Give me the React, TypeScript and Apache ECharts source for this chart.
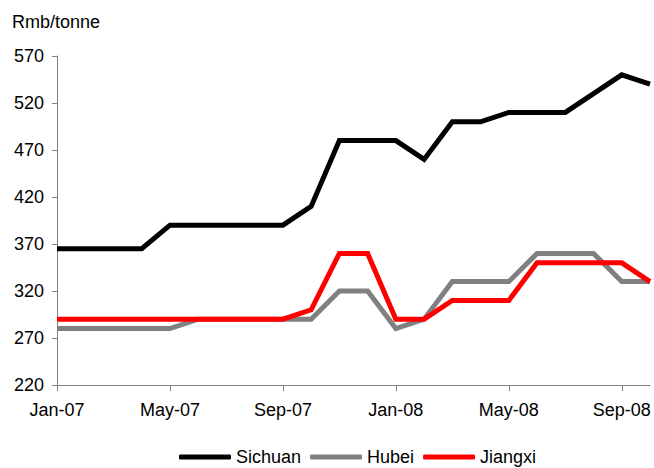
import React, { useEffect, useRef } from "react";
import * as echarts from "echarts";

// Monthly prices, Jan-07 through Oct-08
const months = [
  "Jan-07", "Feb-07", "Mar-07", "Apr-07", "May-07", "Jun-07", "Jul-07", "Aug-07",
  "Sep-07", "Oct-07", "Nov-07", "Dec-07", "Jan-08", "Feb-08", "Mar-08", "Apr-08",
  "May-08", "Jun-08", "Jul-08", "Aug-08", "Sep-08", "Oct-08",
];

const sichuan = [365, 365, 365, 365, 390, 390, 390, 390, 390, 410, 480, 480, 480, 460, 500, 500, 510, 510, 510, 530, 550, 540];
const hubei = [280, 280, 280, 280, 280, 290, 290, 290, 290, 290, 320, 320, 280, 290, 330, 330, 330, 360, 360, 360, 330, 330];
const jiangxi = [290, 290, 290, 290, 290, 290, 290, 290, 290, 300, 360, 360, 290, 290, 310, 310, 310, 350, 350, 350, 350, 330];

const yMin = 220;
const yMax = 570;
const yStep = 50;
const unitLabel = "Rmb/tonne";

const FONT = "'Liberation Sans', Arial, sans-serif";
const FS = 18;

export default function App() {
  const ref = useRef<HTMLDivElement>(null);

  useEffect(() => {
    if (!ref.current) return;
    const chart = echarts.init(ref.current, null, { renderer: "svg" });
    const axisColor = "#808080";
    const mkSeries = (name: string, data: number[], color: string) => ({
      name,
      type: "line",
      data,
      symbol: "none",
      lineStyle: { color, width: 5, join: "miter" },
      itemStyle: { color },
    });
    chart.setOption({
      animation: false,
      textStyle: { fontFamily: FONT },
      grid: { left: 57, right: 4, top: 56, bottom: 83, containLabel: false },
      graphic: [
        {
          type: "text",
          left: 12,
          top: 13,
          style: { text: unitLabel, fontSize: FS, fontFamily: FONT, fill: "#000" },
        },
      ],
      xAxis: {
        type: "category",
        data: months,
        boundaryGap: false,
        axisLine: { lineStyle: { color: axisColor, width: 1 } },
        axisTick: { interval: 3, length: 6, lineStyle: { color: axisColor } },
        axisLabel: { interval: 3, margin: 16, fontSize: FS, color: "#000", fontFamily: FONT },
        splitLine: { show: false },
      },
      yAxis: {
        type: "value",
        min: yMin,
        max: yMax,
        interval: yStep,
        axisLine: { show: true, lineStyle: { color: axisColor, width: 1 } },
        axisTick: { show: true, length: 5, lineStyle: { color: axisColor } },
        axisLabel: { margin: 13, fontSize: FS, color: "#000", fontFamily: FONT },
        splitLine: { show: false },
      },
      legend: {
        top: 448,
        left: 179,
        padding: 0,
        itemWidth: 52,
        itemHeight: 5,
        itemGap: 9,
        icon: "roundRect",
        textStyle: { fontSize: FS, color: "#000", fontFamily: FONT },
        data: ["Sichuan", "Hubei", "Jiangxi"],
      },
      series: [
        mkSeries("Sichuan", sichuan, "#000000"),
        mkSeries("Hubei", hubei, "#808080"),
        mkSeries("Jiangxi", jiangxi, "#ff0000"),
      ],
    });
    return () => chart.dispose();
  }, []);

  return (
    <div
      ref={ref}
      style={{ position: "absolute", left: 0, top: 0, width: 654, height: 468 }}
    />
  );
}
